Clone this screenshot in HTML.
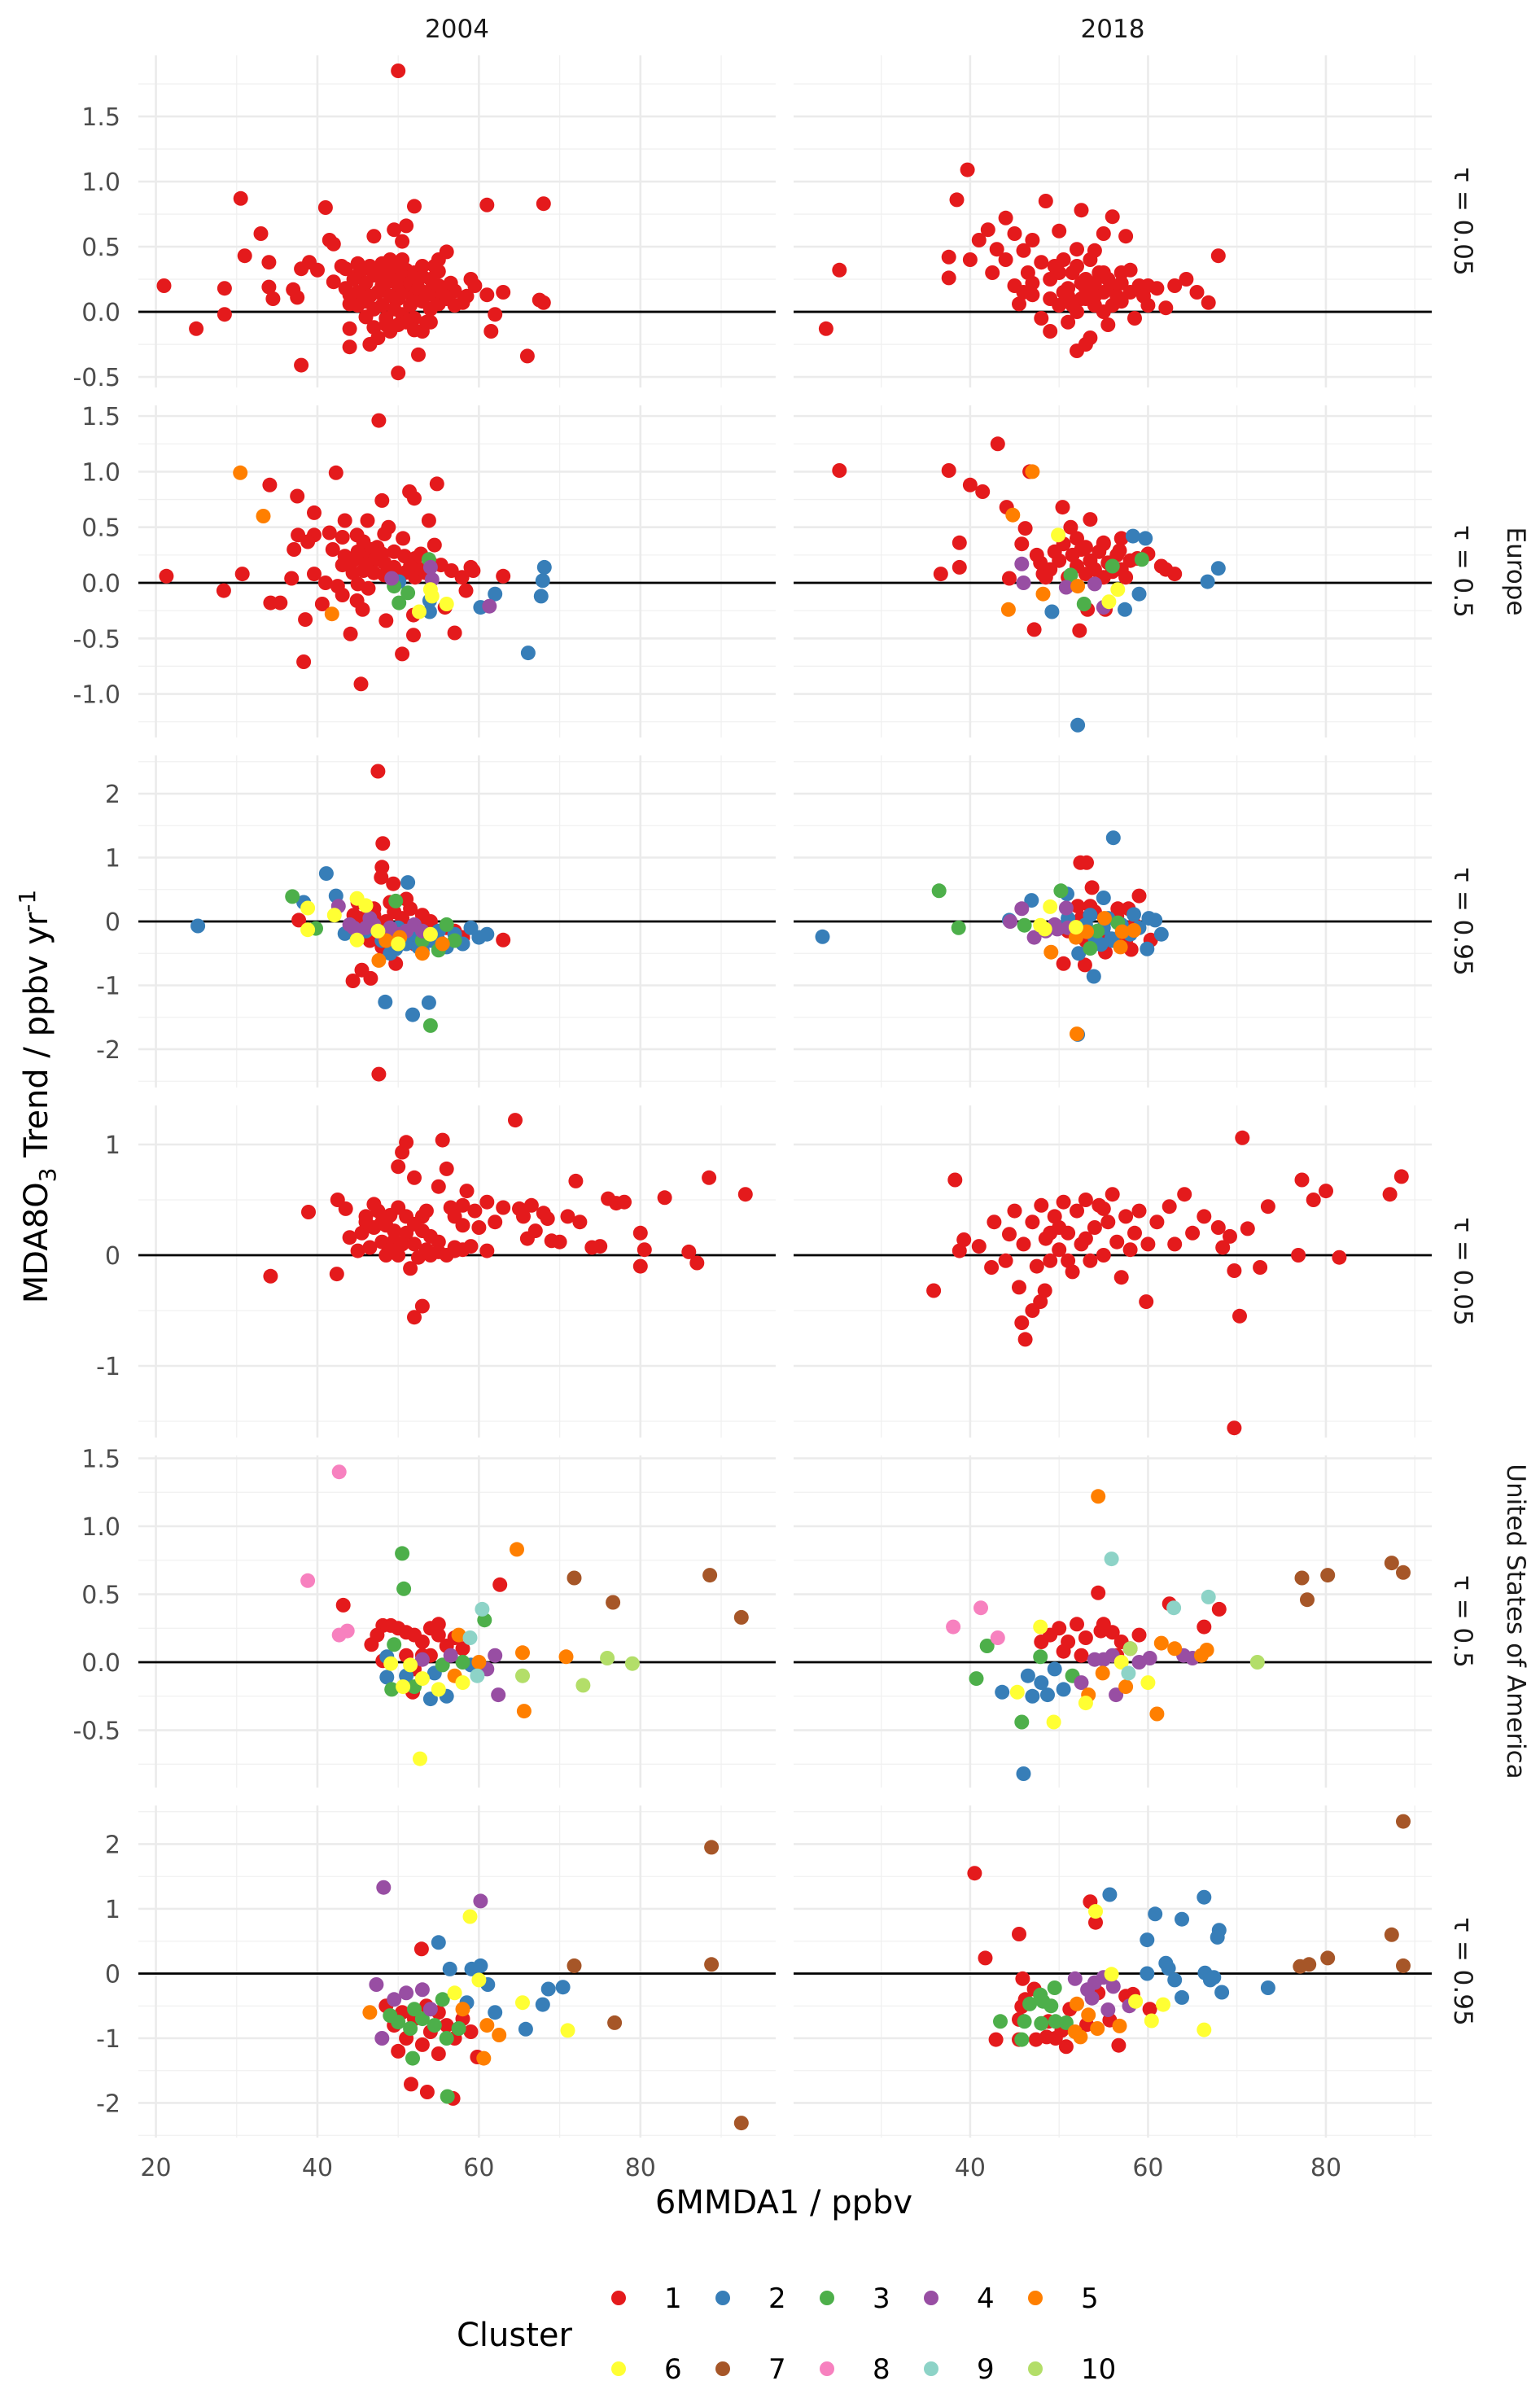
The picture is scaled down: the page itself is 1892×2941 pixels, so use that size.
<!DOCTYPE html>
<html><head><meta charset="utf-8"><title>MDA8O3 trend vs 6MMDA1</title>
<style>
html,body{margin:0;padding:0;background:#fff;}
svg{display:block;font-family:"DejaVu Sans","Liberation Sans",sans-serif;}
</style></head>
<body>
<svg id="chart" width="1892" height="2941" viewBox="0 0 1892 2941" xmlns="http://www.w3.org/2000/svg">
<rect width="1892" height="2941" fill="#fff"/>
<g id="grid"></g><g id="marks"></g><g id="labels"></g>
</svg>
<script>
const clusterColors=["#E41A1C","#377EB8","#4DAF4A","#984EA3","#FF7F00","#FFFF33","#A65628","#F781BF","#8DD3C7","#B3DE69"];
const clusterLabels=["1","2","3","4","5","6","7","8","9","10"];
const yearLabels=["2004","2018"];
const tauLabels=["τ = 0.05","τ = 0.5","τ = 0.95","τ = 0.05","τ = 0.5","τ = 0.95"];
const regionLabels=["Europe","United States of America"];
const xTicksLeft=[20,40,60,80];
const xTicksRight=[40,60,80];
const yTicksRows=[[-0.5,0,0.5,1,1.5],[-1,-0.5,0,0.5,1,1.5],[-2,-1,0,1,2],[-1,0,1],[-0.5,0,0.5,1,1.5],[-2,-1,0,1,2]];
const yTickText=[["-0.5","0.0","0.5","1.0","1.5"],["-1.0","-0.5","0.0","0.5","1.0","1.5"],["-2","-1","0","1","2"],["-1","0","1"],["-0.5","0.0","0.5","1.0","1.5"],["-2","-1","0","1","2"]];

// Europe tau=0.05, 2004  [x, y, cluster]
const eu05_2004=[[21,0.2,1],[25,-0.13,1],[28.5,0.18,1],[28.5,-0.02,1],[30.5,0.87,1],[31,0.43,1],[33,0.6,1],[34,0.38,1],[34,0.19,1],[34.5,0.1,1],[37,0.17,1],[37.5,0.11,1],[38,-0.41,1],[38,0.33,1],[39,0.38,1],[40,0.32,1],[41,0.8,1],[41.5,0.55,1],[42,0.52,1],[42,0.23,1],[43,0.35,1],[43.5,0.18,1],[44,0.06,1],[44,-0.13,1],[44,-0.27,1],[45,0.28,1],[45,0.37,1],[45.5,0.15,1],[46,-0.04,1],[46.5,-0.25,1],[47,0.58,1],[47,-0.12,1],[48,0.2,1],[48,0.37,1],[49,-0.15,1],[49.5,0.63,1],[50,1.85,1],[50,-0.47,1],[50.5,0.54,1],[51,0.66,1],[52,0.81,1],[52,0.21,1],[52,-0.05,1],[52.5,-0.33,1],[53,-0.15,1],[54,0.15,1],[54,-0.08,1],[55,0.4,1],[55,0.31,1],[56,0.46,1],[57,0.16,1],[58,0.07,1],[58.5,0.12,1],[59,0.25,1],[59.5,0.2,1],[61,0.13,1],[61,0.82,1],[61.5,-0.15,1],[62,-0.02,1],[63,0.15,1],[66,-0.34,1],[67.5,0.09,1],[68,0.07,1],[68,0.83,1],
[44.5,0.25,1],[45,0.15,1],[45.5,0.32,1],[46,0.22,1],[46,0.08,1],[46.5,0.35,1],[47,0.28,1],[47,0.02,1],[47.5,0.15,1],[48,0.3,1],[48,0.05,1],[48.5,0.22,1],[48.5,-0.05,1],[49,0.12,1],[49,0.28,1],[49.5,0.35,1],[49.5,0.02,1],[50,0.2,1],[50,0.1,1],[50.5,0.28,1],[50.5,-0.02,1],[51,0.15,1],[51,0.32,1],[51.5,0.05,1],[51.5,0.22,1],[52,0.12,1],[52,0.3,1],[52.5,0.18,1],[53,0.08,1],[53,0.27,1],[53.5,0.15,1],[54,0.25,1],[54,0.02,1],[54.5,0.12,1],[55,0.2,1],[55,0.06,1],[55.5,0.15,1],[56,0.1,1],[56.5,0.22,1],[57,0.05,1],[47.5,-0.2,1],[48.5,-0.1,1],[50,-0.1,1],[51,-0.08,1],[52,-0.14,1],[53.5,-0.08,1],[54.5,0.35,1],[45,0.05,1],[44,0.13,1],[43.5,0.33,1],[46.5,0.12,1],[49,0.4,1],[50.5,0.4,1],[53,0.35,1]];

const eu05_2018=[[23.8,-0.13,1],[25.3,0.32,1],[39.7,1.09,1],[38.5,0.86,1],[37.6,0.42,1],[37.6,0.26,1],[40,0.4,1],[41,0.55,1],[42,0.63,1],[42.5,0.3,1],[43,0.48,1],[44,0.72,1],[44,0.4,1],[45,0.6,1],[45,0.2,1],[45.5,0.06,1],[46,0.47,1],[46.5,0.3,1],[47,0.55,1],[47,0.13,1],[48,0.38,1],[48.5,0.85,1],[48,-0.05,1],[49,0.25,1],[49,-0.15,1],[50,0.62,1],[50,0.05,1],[50.5,0.4,1],[51,0.18,1],[51,-0.08,1],[51.5,0.3,1],[52,-0.3,1],[52,0.48,1],[52.5,0.1,1],[52.5,0.78,1],[53,-0.25,1],[53,0.25,1],[53.5,-0.2,1],[54,0.47,1],[54,0.05,1],[54.5,0.3,1],[55,0.6,1],[55,0.15,1],[55.5,-0.1,1],[56,0.2,1],[56,0.73,1],[57,0.08,1],[57,0.3,1],[57.5,0.58,1],[58,0.15,1],[58.5,-0.05,1],[59,0.2,1],[59.5,0.12,1],[60,0.05,1],[60,0.2,1],[61,0.18,1],[62,0.03,1],[63,0.2,1],[64.3,0.25,1],[65.5,0.15,1],[66.8,0.07,1],[67.9,0.43,1],[52,0.35,1],[53,0.18,1],[54,0.12,1],[55,0.3,1],[56,0.05,1],[51,0.12,1],[50,0.3,1],[49,0.1,1],[47,0.22,1],[46,0.15,1],[53.5,0.4,1],[55,0.0,1],[57,0.22,1],[58,0.32,1],[52,0.0,1],[54,0.22,1],[50.5,0.15,1],[49.5,0.35,1],[51.5,0.05,1],[53,0.1,1],[55.5,0.25,1],[56.5,0.12,1],[52.5,0.22,1]];

const eu50_2004=[[30.45,0.99,5],[33.3,0.6,5],[34.1,0.88,1],[37.5,0.78,1],[42.3,0.99,1],[47.6,1.46,1],[39.6,0.63,1],[43.4,0.56,1],[46.2,0.56,1],[48,0.74,1],[51.4,0.82,1],[52,0.76,1],[54.8,0.89,1],[53.8,0.56,1],[37.6,0.43,1],[39.6,0.43,1],[37.1,0.3,1],[38.8,0.37,1],[41.5,0.45,1],[48.8,0.5,1],[48.3,0.44,1],[50.6,0.4,1],[54.5,0.34,1],[21.3,0.06,1],[30.7,0.08,1],[28.4,-0.07,1],[34.2,-0.18,1],[35.4,-0.18,1],[36.8,0.04,1],[39.6,0.08,1],[41,0,1],[40.6,-0.19,1],[38.5,-0.33,1],[38.3,-0.71,1],[41.8,-0.28,5],[43.1,-0.11,1],[44.9,-0.16,1],[45.6,-0.24,1],[44.1,-0.46,1],[45.4,-0.91,1],[48.5,-0.34,1],[50.5,-0.64,1],[51.9,-0.47,1],[51.9,-0.29,1],[57,-0.45,1],[58.4,-0.07,1],[59,0.14,1],[59.3,0.11,1],[63,0.06,1],[55.8,-0.22,1],
[41.9,0.3,1],[43.1,0.41,1],[44.9,0.43,1],[45.7,0.37,1],[46.7,0.3,1],[47.4,0.32,1],[43.4,0.24,1],[44.4,0.2,1],[45.7,0.22,1],[47,0.2,1],[48.3,0.18,1],[49.5,0.28,1],[50.8,0.24,1],[52.1,0.22,1],[52.8,0.26,1],[54,0.18,1],[55.3,0.16,1],[56.6,0.11,1],[57.9,0.05,1],[43.1,0.16,1],[44.4,0.09,1],[45.7,0.11,1],[47,0.09,1],[48.3,0.07,1],[49.5,0.14,1],[50.8,0.09,1],[52.1,0.05,1],[53.4,0.09,1],[45,-0.01,1],[46.3,-0.05,1],[42.5,-0.03,1],[45,0.28,1],[46,0.17,1],[48,0.26,1],[51.5,0.15,1],[53,0.12,1],
[53.8,0.21,3],[50.1,-0.18,3],[49.5,-0.03,3],[51.2,-0.09,3],[50.1,0.01,2],[53.9,-0.16,2],[53.9,-0.26,2],[60.2,-0.22,2],[62,-0.1,2],[68.1,0.14,2],[67.9,0.02,2],[67.7,-0.12,2],[66.1,-0.63,2],[49.2,0.04,4],[54,0.14,4],[54.2,0.03,4],[61.3,-0.21,4],[52.6,-0.26,6],[56,-0.19,6],[54.2,-0.12,6],[54,-0.06,6]];

const eu50_2018=[[25.3,1.01,1],[37.6,1.01,1],[43.1,1.25,1],[41.4,0.82,1],[40,0.88,1],[38.8,0.36,1],[36.7,0.08,1],[38.8,0.14,1],[46.7,1.0,1],[44.1,0.68,1],[46.2,0.49,1],[45.8,0.35,1],[50.4,0.68,1],[51.3,0.5,1],[53.5,0.57,1],[55,0.36,1],[56.8,0.29,1],[60,0.26,1],[61.5,0.15,1],[58.8,0.22,1],[47.9,0.18,1],[44.4,0.04,1],[48.2,0.08,1],[47.2,-0.42,1],[52.3,-0.43,1],
[49,0.12,1],[50,0.2,1],[51,0.05,1],[51.5,0.25,1],[52,0.15,1],[52.5,0.3,1],[53,0.08,1],[53.5,0.2,1],[54,0.12,1],[54.5,0.28,1],[55,0.05,1],[55.5,0.18,1],[56,0.1,1],[56.5,0.25,1],[57,0.12,1],[57.5,0.05,1],[58,0.2,1],[50.5,0.35,1],[49.5,0.28,1],[48.5,0.05,1],[47.5,0.25,1],[52,0.4,1],[53,0.32,1],[55,0.35,1],[62,0.12,1],[63,0.08,1],[57,0.4,1],
[47,1.0,5],[44.8,0.61,5],[52.1,-1.28,2],[49.2,-0.26,2],[53.2,-0.24,1],[55.2,-0.24,1],[57.4,-0.24,2],[59,-0.1,2],[58.3,0.42,2],[59.7,0.4,2],[59.3,0.21,3],[56,0.15,3],[51.3,0.07,3],[52.8,-0.19,3],[50.8,-0.04,4],[54,-0.01,4],[55,-0.22,4],[45.8,0.17,4],[46,0,4],[49.9,0.43,6],[55.6,-0.17,6],[56.6,-0.06,6],[66.7,0.01,2],[67.9,0.13,2],[44.3,-0.24,5],[48.2,-0.1,5],[52.1,-0.03,5]];

const eu95_2004=[[25.2,-0.07,2],[36.9,0.39,3],[38.3,0.3,2],[38.8,0.21,6],[37.7,0.02,1],[38.8,-0.13,6],[39.8,-0.11,3],[41.1,0.75,2],[42.3,0.4,2],[42.1,0.1,6],[42.6,0.24,4],[43.4,-0.19,2],[44.9,0.36,6],[44.9,-0.29,6],[47.5,2.35,1],[48.1,1.22,1],[48,0.85,1],[47.9,0.69,1],[49.4,0.59,1],
[44.5,0.1,1],[45,-0.1,1],[45.5,0.05,1],[46,-0.2,1],[46.5,-0.3,1],[47,0.1,1],[47.5,-0.05,1],[48,-0.4,1],[48.5,0,1],[49,-0.15,1],[49.5,0.15,1],[50,-0.25,1],[50.5,0.05,1],[51,-0.1,1],[51.5,0.2,1],[52,-0.35,1],[52.5,-0.05,1],[53,0.1,1],[53.5,-0.2,1],[54,0,1],[55,-0.3,1],[56,-0.1,1],[57,-0.15,1],[58,-0.25,1],[45,0.3,1],[47,0.2,1],[49,0.3,1],[51,0.35,1],[63,-0.29,1],
[46,-0.15,2],[48,-0.3,2],[50,-0.1,2],[51,-0.35,2],[52,-0.2,2],[53,-0.45,2],[54,-0.3,2],[55,-0.15,2],[56,-0.4,2],[57,-0.2,2],[58,-0.35,2],[59,-0.1,2],[60,-0.25,2],[61,-0.2,2],[49,-0.5,2],[52.5,-0.4,2],[51.2,0.61,2],[51.8,-1.46,2],[53.8,-1.27,2],
[50,-0.25,3],[53,-0.3,3],[55,-0.45,3],[57,-0.3,3],[54,-1.63,3],[49.7,0.32,3],[56,-0.05,3],
[44,-0.05,4],[45,-0.15,4],[46,-0.1,4],[47,-0.05,4],[48,-0.2,4],[49,-0.1,4],[50,-0.2,4],[51,-0.15,4],[52,-0.05,4],[53,-0.15,4],[46.5,0.05,4],[44.5,-0.1,4],
[47.5,-0.15,6],[50,-0.35,6],[54,-0.2,6],[46,0.25,6],[48.5,-0.3,5],[53,-0.5,5],[55.5,-0.35,5],
[47.6,-0.61,5],[45.5,-0.76,1],[44.4,-0.93,1],[46.6,-0.89,1],[48.4,-1.26,2],[47.6,-2.39,1],[49.7,-0.66,1],[49.7,-0.43,2],[50.2,-0.25,5]];

const eu95_2018=[[23.4,-0.24,2],[36.5,0.48,3],[38.7,-0.1,3],[56.1,1.31,2],[52.4,0.92,1],[53.1,0.92,1],[53.7,0.53,1],[50.2,0.48,3],[50.9,0.43,2],[55,0.37,2],[59,0.4,1],[46.9,0.33,2],[45.8,0.2,4],[49,0.23,6],[50.8,0.21,4],[52.1,0.24,1],[53.5,0.24,1],[56.6,0.2,1],[57.8,0.2,1],[58.4,0.11,2],[60.1,0.05,2],[60.8,0.02,2],[61.5,-0.2,2],[44.4,0.02,2],[44.5,0,4],
[50,-0.1,2],[51,0.05,2],[52,-0.2,2],[53,-0.05,2],[53.5,0.1,2],[54,-0.25,2],[55,-0.1,2],[55.5,0.05,2],[56,-0.3,2],[57,-0.05,2],[58,-0.2,2],[59,-0.1,2],[51,-0.15,1],[52.5,0.05,1],[54,0.15,1],[55,-0.2,1],[56.5,0.08,1],[57.5,-0.3,1],[58.5,-0.05,1],[53,-0.3,1],
[46.1,-0.06,3],[47.9,-0.06,6],[48.4,-0.12,6],[47.2,-0.25,4],[49.8,-0.12,4],[51,-0.1,4],[48.5,-0.15,4],[49.5,-0.05,4],[51.9,-0.09,6],[53.1,-0.16,5],[51.9,-0.25,5],[54.3,-0.15,3],[55.1,0.05,5],[56.6,-0.02,3],[57.1,-0.16,5],[58.4,-0.14,5],[60.3,-0.29,1],[53.5,-0.42,3],[56.9,-0.4,5],[58.1,-0.44,1],[59.9,-0.43,2],[49.1,-0.48,5],[52.2,-0.5,2],[50.5,-0.66,1],[52.9,-0.68,1],[53.9,-0.86,2],[52.1,-1.77,2],[52,-1.76,5],[55.2,-0.48,1],[54.7,-0.36,2],[55.9,-0.27,2]];

const us05_2004=[[34.2,-0.19,1],[38.9,0.39,1],[42.4,-0.17,1],[42.5,0.5,1],[43.5,0.42,1],[44,0.16,1],[45.5,0.2,1],[46,0.35,1],[46.5,0.07,1],[47,0.46,1],[48,0.3,1],[48.5,0.27,1],[48.5,0,1],[49,0.36,1],[49.5,0.13,1],[50,0.43,1],[50,0.8,1],[50.5,0.93,1],[51,1.02,1],[51,0.2,1],[51.5,-0.12,1],[52,0.7,1],[52,-0.56,1],[52.5,-0.02,1],[53,0.35,1],[53,-0.46,1],[53.5,0.05,1],[54,0.17,1],[55,0.62,1],[55,0.03,1],[55.5,1.04,1],[56,0.78,1],[56.5,0.43,1],[57,0.35,1],[57,0.07,1],[58,0.27,1],[58.5,0.58,1],[59,0.08,1],[59.5,0.4,1],[60,0.25,1],[61,0.04,1],[61,0.48,1],[62,0.3,1],[63,0.43,1],[64.5,1.22,1],[65,0.42,1],[65.5,0.35,1],[66,0.15,1],[66.5,0.45,1],[67,0.22,1],[68,0.38,1],[68.5,0.33,1],[69,0.13,1],[70,0.12,1],[71,0.35,1],[72,0.67,1],[72.5,0.3,1],[74,0.07,1],[75,0.08,1],[76,0.51,1],[77,0.47,1],[78,0.48,1],[80,0.2,1],[80,-0.1,1],[80.5,0.05,1],[83,0.52,1],[86,0.03,1],[87,-0.07,1],[88.5,0.7,1],[93,0.55,1],[46,0.3,1],[47,0.25,1],[48,0.12,1],[49,0.05,1],[50,0,1],[51,0.35,1],[52,0.28,1],[53,0.22,1],[54,0,1],[55,0.12,1],[56,0,1],[57,0.04,1],[58,0.05,1],[47.5,0.4,1],[49.5,0.22,1],[50.5,0.1,1],[45,0.04,1],[52,0.1,1],[53.5,0.4,1],[58,0.45,1]];

const us05_2018=[[35.9,-0.32,1],[38.3,0.68,1],[38.8,0.04,1],[39.3,0.14,1],[41,0.08,1],[42.7,0.3,1],[42.4,-0.11,1],[44.4,0.19,1],[45.5,-0.29,1],[45.8,-0.61,1],[46.2,-0.76,1],[47,-0.5,1],[47.9,-0.42,1],[48.4,-0.32,1],[45,0.4,1],[46,0.1,1],[47,0.3,1],[47.5,-0.1,1],[48,0.45,1],[48.5,0.15,1],[49,-0.05,1],[49.5,0.35,1],[50,0.05,1],[50.5,0.48,1],[51,0.2,1],[51.5,-0.15,1],[52,0.4,1],[52.5,0.1,1],[53,0.5,1],[53.5,-0.05,1],[54,0.25,1],[54.5,0.45,1],[55,0.0,1],[55.5,0.3,1],[56,0.55,1],[56.5,0.12,1],[57,-0.2,1],[57.5,0.35,1],[58,0.05,1],[58.5,0.2,1],[59,0.4,1],[60,0.1,1],[61,0.3,1],[50,0.25,1],[51,-0.05,1],[53,0.15,1],[55,0.42,1],[49,0.2,1],[44,-0.05,1],[59.8,-0.42,1],[62.4,0.44,1],[64.1,0.55,1],[66.3,0.35,1],[67.9,0.25,1],[68.4,0.07,1],[69.2,0.17,1],[69.7,-0.14,1],[70.3,-0.55,1],[70.6,1.06,1],[69.7,-1.56,1],[71.2,0.24,1],[72.6,-0.11,1],[73.5,0.44,1],[78.6,0.5,1],[77.3,0.68,1],[80,0.58,1],[81.5,-0.02,1],[87.2,0.55,1],[88.5,0.71,1],[76.9,0,1],[63,0.1,1],[65,0.2,1]];

const us50_2004=[[42.7,1.4,8],[38.8,0.6,8],[43.2,0.42,1],[42.7,0.2,8],[43.7,0.23,8],[46.7,0.13,1],[48.1,0.27,1],[49.1,0.27,1],[49.5,0.13,3],[50.5,0.8,3],[50.7,0.54,3],[47.4,0.2,1],[48.6,0.04,2],[49.1,-0.01,6],[48.6,-0.11,2],[49.2,-0.2,3],[50.6,-0.18,6],[48.1,0.01,1],
[50,0.25,1],[51,0.22,1],[52,0.2,1],[53,0.15,1],[54,0.25,1],[55,0.2,1],[56,0.12,1],[55,0.28,1],[57,0.18,1],[58,0.1,1],[51,0.05,1],[53,0.05,1],[52,-0.05,1],[54,0.05,1],
[54,-0.27,2],[51.8,-0.22,1],[52.7,-0.71,6],[62.6,0.57,1],[60.4,0.39,9],[60.7,0.31,3],[62.4,-0.24,4],[64.7,0.83,5],[65.4,0.07,5],[65.6,-0.36,5],[65.4,-0.1,10],[71.8,0.62,7],[70.8,0.04,5],[76.6,0.44,7],[75.9,0.03,10],[72.9,-0.17,10],[79,-0.01,10],[88.6,0.64,7],[92.5,0.33,7],[59.8,-0.1,9],[58.9,0.18,9],
[51,-0.1,2],[52,-0.18,3],[53,-0.12,6],[54.5,-0.08,2],[55,-0.2,6],[56,-0.25,2],[57,-0.1,5],[58,0.0,3],[56.5,0.05,4],[58,-0.15,6],[60,0.0,5],[61,-0.05,4],[62,0.05,4],[53,0.02,4],[57.5,0.2,5],[59,-0.02,2],[51.5,-0.02,6],[55.5,-0.02,3]];

const us50_2018=[[38.1,0.26,8],[41.2,0.4,8],[43.1,0.18,8],[41.9,0.12,3],[40.7,-0.12,3],[43.6,-0.22,2],[45.8,-0.44,3],[46,-0.82,2],[45.3,-0.22,6],[47.9,0.26,6],[47.9,0.04,3],[48.7,-0.24,2],[49.4,-0.44,6],[54.4,0.51,1],[54.4,1.22,5],[55.9,0.76,9],[54.7,0.23,1],[56.4,-0.24,4],[53.3,-0.24,5],[54.9,-0.08,5],[57.8,-0.08,9],[62.9,0.4,9],[61,-0.38,5],[61.5,0.14,5],[60.2,0.03,4],[62.4,0.43,1],[66.8,0.48,9],[66.3,0.26,1],[66.6,0.09,5],[68,0.39,1],[72.3,0,10],[77.3,0.62,7],[77.9,0.46,7],[80.2,0.64,7],[87.4,0.73,7],[88.7,0.66,7],
[48,0.15,1],[49,0.2,1],[50,0.25,1],[51,0.15,1],[52,0.28,1],[53,0.18,1],[55,0.28,1],[56,0.22,1],[57,0.15,1],[58,0.1,1],[50.5,0.08,1],[52.5,0.05,1],[56.5,0.05,1],[59,0.2,1],
[46.5,-0.1,2],[47,-0.25,2],[48,-0.15,2],[49.5,-0.05,2],[50.5,-0.2,2],[51.5,-0.1,3],[52.5,-0.15,4],[54,0.02,4],[55,0.02,4],[56,0.05,4],[57,0.0,6],[58,0.1,10],[59,0.0,4],[60,-0.15,6],[53,-0.3,6],[57.5,-0.18,5],[63,0.1,5],[64,0.05,4],[65,0.03,4],[66,0.05,5]];

const us95_2004=[[48.2,1.33,4],[58.9,0.88,6],[60.2,1.12,4],[55,0.48,2],[52.9,0.38,1],[56.4,0.07,2],[59.1,0.07,2],[60.2,0.12,2],[61.1,-0.17,2],[71.8,0.12,7],[68.6,-0.24,2],[70.4,-0.21,2],[76.8,-0.76,7],[71,-0.88,6],[67.9,-0.48,2],[65.8,-0.86,2],[65.4,-0.45,6],[88.8,1.95,7],[88.8,0.14,7],[92.5,-2.31,7],[51.6,-1.71,1],[53.6,-1.83,1],[56.8,-1.93,1],[56.1,-1.9,3],[55,-1.24,1],[59.8,-1.29,1],[60.6,-1.31,5],[46.5,-0.6,5],[47.3,-0.17,4],[48,-1.0,4],[51.8,-1.31,3],
[48.5,-0.5,1],[49.5,-0.8,1],[50.5,-0.6,1],[51,-1.0,1],[52,-0.7,1],[53,-1.1,1],[54,-0.9,1],[55,-0.6,1],[56,-0.8,1],[57,-1.0,1],[58,-0.7,1],[59,-0.9,1],[50,-1.2,1],[53.5,-0.5,1],
[49,-0.65,3],[50,-0.75,3],[51.5,-0.85,3],[53,-0.7,3],[54.5,-0.8,3],[56,-1.0,3],[57.5,-0.85,3],[52,-0.55,3],[55.5,-0.4,3],
[49.5,-0.4,4],[51,-0.3,4],[53,-0.25,4],[54,-0.55,4],[57,-0.3,6],[58,-0.55,5],[61,-0.8,5],[62.5,-0.95,5],[60,-0.1,6],[58.5,-0.45,2],[62,-0.6,2]];

const us95_2018=[[40.5,1.55,1],[55.7,1.22,2],[66.3,1.18,2],[53.5,1.11,1],[54.1,0.96,6],[54.1,0.79,1],[60.8,0.92,2],[63.8,0.84,2],[68,0.67,2],[67.8,0.56,2],[59.9,0.52,2],[45.5,0.61,1],[41.7,0.24,1],[88.7,2.35,7],[87.4,0.6,7],[80.2,0.24,7],[78.1,0.14,7],[77.1,0.11,7],[88.7,0.12,7],[62,0.16,2],[62.3,0.08,2],[59.9,0,2],[63,-0.1,2],[66.4,0.01,2],[67.4,-0.06,2],[67,-0.1,2],[73.5,-0.22,2],[68.3,-0.29,2],[63.8,-0.37,2],[55.9,-0.01,6],[55,-0.06,4],[51.8,-0.08,4],[54,-0.14,4],[56.1,-0.2,4],[53.2,-0.25,4],[53.7,-0.38,4],[55.5,-0.56,4],[57.9,-0.5,4],[54.4,-0.3,1],[57.5,-0.35,1],[58.3,-0.32,1],[60.2,-0.55,1],[58.6,-0.43,6],[61.7,-0.48,6],[60.4,-0.73,6],[66.3,-0.87,6],[49.5,-0.22,3],[43.4,-0.74,3],[47.9,-0.33,3],[46.7,-0.47,3],[48.2,-0.43,3],[49.1,-0.5,3],[46.1,-0.74,3],[48,-0.77,3],[49.6,-0.74,3],[50.8,-0.76,3],[45.8,-1.02,3],[52,-0.47,5],[53.3,-0.64,5],[51.8,-0.9,5],[52.4,-0.98,5],[54.3,-0.85,5],[56.8,-0.81,5],[45.9,-0.08,1],[47.2,-0.24,1],[46.2,-0.4,1],[45.5,-0.71,1],[42.9,-1.02,1],[45.5,-1.02,1],[47.4,-1.02,1],[48.6,-0.98,1],[49.6,-1,1],[50.8,-1.13,1],[51.2,-0.55,1],[53.1,-0.79,1],[56.7,-1.11,1],[55.7,-0.72,1],[45.8,-0.51,1],[48.8,-0.74,1],[50.3,-0.88,1]];

const panelData=[[eu05_2004,eu05_2018],[eu50_2004,eu50_2018],[eu95_2004,eu95_2018],[us05_2004,us05_2018],[us50_2004,us50_2018],[us95_2004,us95_2018]];
const rowYRange=[[-0.581,1.969],[-1.391,1.596],[-2.599,2.599],[-1.647,1.353],[-0.922,1.521],[-2.535,2.597]];
const colXRange=[[17.83,96.75],[20.15,91.9]];

const NS="http://www.w3.org/2000/svg";
const colX=[[170,953],[975,1759]];
const rowTop=[68,498,928,1358,1788,2218];
const PH=408;
function el(tag,attrs,parent,text){const e=document.createElementNS(NS,tag);for(const k in attrs)e.setAttribute(k,attrs[k]);if(text!==undefined)e.textContent=text;parent.appendChild(e);return e;}
function xScale(c,v){const [a,b]=colXRange[c];return colX[c][0]+(v-a)/(b-a)*(colX[c][1]-colX[c][0]);}
function yScale(r,v){const [a,b]=rowYRange[r];return rowTop[r]+PH-(v-a)/(b-a)*PH;}
const grid=document.getElementById('grid'),marks=document.getElementById('marks'),labels=document.getElementById('labels');

for(let r=0;r<6;r++){
  const ticks=yTicksRows[r];
  const step=ticks[1]-ticks[0];
  for(let c=0;c<2;c++){
    const g=el('g',{},grid);
    
    
    const x0=colX[c][0],x1=colX[c][1],y0=rowTop[r],y1=rowTop[r]+PH;
    // minor horizontal
    for(let v=ticks[0]-step*2;v<=ticks[ticks.length-1]+step*2;v+=step){
      const mv=v+step/2;const y=yScale(r,mv);
      if(y>y0&&y<y1)el('line',{x1:x0,x2:x1,y1:y,y2:y,stroke:'#f0f0f0','stroke-width':1.3},g);
    }
    [10,30,50,70,90].forEach(v=>{const x=xScale(c,v);if(x>x0&&x<x1)el('line',{x1:x,x2:x,y1:y0,y2:y1,stroke:'#f0f0f0','stroke-width':1.3},g);});
    ticks.forEach(v=>{const y=yScale(r,v);el('line',{x1:x0,x2:x1,y1:y,y2:y,stroke:'#ebebeb','stroke-width':2.6},g);});
    [20,40,60,80].forEach(v=>{const x=xScale(c,v);if(x>x0&&x<x1)el('line',{x1:x,x2:x,y1:y0,y2:y1,stroke:'#ebebeb','stroke-width':2.6},g);});
    const zl=el('line',{x1:x0,x2:x1,y1:yScale(r,0),y2:yScale(r,0),stroke:'#000','stroke-width':2.8},g);
    
    
    // points
    const pg=el('g',{},marks);
    
    
    const pts=panelData[r][c].slice().sort((a,b)=>a[2]-b[2]);
    pts.forEach(p=>{
      const ci=el('circle',{cx:xScale(c,p[0]).toFixed(1),cy:yScale(r,p[1]).toFixed(1),r:9,fill:clusterColors[p[2]-1]},pg);
      
      
    });
  }
  // y tick labels
  ticks.forEach((v,i)=>{
    const t=el('text',{x:148,y:yScale(r,v)+11,'text-anchor':'end','font-size':30,fill:'#4d4d4d'},labels,yTickText[r][i]);
    
    
  });
  const cy=rowTop[r]+PH/2;
  const tl=el('text',{x:1797,y:cy,'text-anchor':'middle','font-size':31,fill:'#1a1a1a',transform:'rotate(90 1797 '+cy+')','dominant-baseline':'central'},labels,tauLabels[r]);
  
  
}
// column strips
yearLabels.forEach((s,c)=>{
  const t=el('text',{x:(colX[c][0]+colX[c][1])/2,y:46,'text-anchor':'middle','font-size':31,fill:'#1a1a1a'},labels,s);
  
  
});
regionLabels.forEach((s,i)=>{
  const cy=(rowTop[i*3]+rowTop[i*3+2]+PH)/2;
  const t=el('text',{x:1862,y:cy,'text-anchor':'middle','font-size':31,fill:'#1a1a1a',transform:'rotate(90 1862 '+cy+')','dominant-baseline':'central'},labels,s);
  
  
});
// x ticks
[xTicksLeft,xTicksRight].forEach((tk,c)=>{
  tk.forEach(v=>{
    const t=el('text',{x:xScale(c,v),y:2673,'text-anchor':'middle','font-size':30,fill:'#4d4d4d'},labels,String(v));
    
    
  });
});
const xt=el('text',{x:963,y:2719,'text-anchor':'middle','font-size':40,fill:'#000'},labels,'6MMDA1 / ppbv');


// y title
const yt=el('text',{x:0,y:0,'text-anchor':'middle','font-size':40,fill:'#000',transform:'translate(58 1347) rotate(-90)'},labels);


yt.appendChild(document.createTextNode('MDA8O'));
el('tspan',{'font-size':28,dy:10},yt,'3');
el('tspan',{dy:-10},yt,' Trend / ppbv yr');
el('tspan',{'font-size':28,dy:-15},yt,'-1');
// legend
const lg=el('g',{},labels);


const lt=el('text',{x:632,y:2882,'text-anchor':'middle','font-size':40,fill:'#000'},lg,'Cluster');


clusterLabels.forEach((s,i)=>{
  const row=Math.floor(i/5),col=i%5;
  const cx=760+128*col,cy=row?2910:2823;
  const d=el('circle',{cx:cx,cy:cy,r:9,fill:clusterColors[i]},lg);
  
  
  const t=el('text',{x:cx+56,y:cy+12,'font-size':34,fill:'#000'},lg,s);
  
  
});
</script>
</body></html>
